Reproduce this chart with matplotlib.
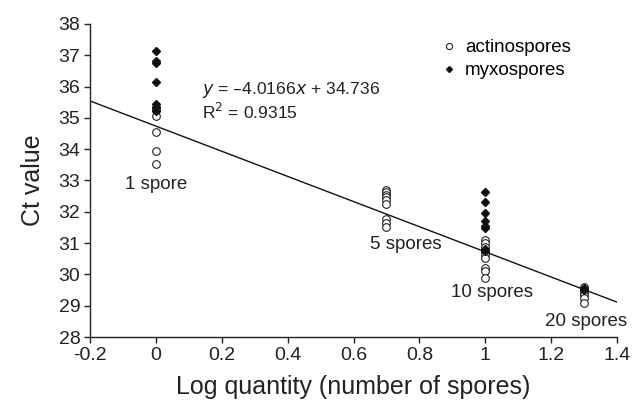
import numpy as np
import matplotlib
matplotlib.use('Agg')
import matplotlib.pyplot as plt

plt.rcParams['font.family'] = ['Liberation Sans', 'DejaVu Sans']

# log10(number of spores) for each group
x_levels = [0.0, 0.699, 1.0, 1.301]

actino = {
    0.0: [35.3, 35.25, 35.05, 34.56, 33.95, 33.52],
    0.699: [32.7, 32.62, 32.54, 32.47, 32.38, 32.24, 31.76, 31.63, 31.5],
    1.0: [31.1, 30.99, 30.87, 30.72, 30.62, 30.51, 30.19, 30.1, 29.9],
    1.301: [29.6, 29.5, 29.42, 29.33, 29.25, 29.1],
}
myxo = {
    0.0: [37.12, 36.8, 36.74, 36.16, 35.44, 35.35, 35.22],
    1.0: [32.62, 32.3, 31.95, 31.69, 31.53, 31.48, 30.8, 30.74],
    1.301: [29.58, 29.5],
}

slope, intercept = -4.0166, 34.736

labels = ['1 spore', '5 spores', '10 spores', '20 spores']
label_pos = [(0.0, 32.86), (0.76, 30.97), (1.02, 29.42), (1.305, 28.49)]

fig = plt.figure(figsize=(6.44, 4.12), dpi=100)
ax = fig.add_axes([0.1398, 0.182, 0.8184, 0.760])

ax_x, ax_y = [], []
for k, v in actino.items():
    ax_x += [k] * len(v)
    ax_y += v
mx_x, mx_y = [], []
for k, v in myxo.items():
    mx_x += [k] * len(v)
    mx_y += v

ax.plot(ax_x, ax_y, 'o', mfc='white', mec='#222222', mew=0.8, ms=5.5,
        ls='none', label='actinospores', zorder=3)
ax.plot(mx_x, mx_y, 'D', color='#111111', ms=3.8, ls='none',
        label='myxospores', zorder=4)

xl = np.array([-0.2, 1.4])
ax.plot(xl, slope * xl + intercept, color='#111111', lw=1.0, zorder=2)

for t, (px, py) in zip(labels, label_pos):
    ax.text(px, py, t, ha='center', va='center', fontsize=13.5, color='#222222')

ax.text(0.139, 35.9, r'$y$ = –4.0166$x$ + 34.736', fontsize=12.6,
        va='center', ha='left', color='#222222')
ax.text(0.139, 35.2, r'R$^2$ = 0.9315', fontsize=12.6,
        va='center', ha='left', color='#222222')

ax.set_xlim(-0.2, 1.4)
ax.set_ylim(28, 38)
ax.set_xticks([-0.2, 0, 0.2, 0.4, 0.6, 0.8, 1.0, 1.2, 1.4])
ax.set_xticklabels(['-0.2', '0', '0.2', '0.4', '0.6', '0.8', '1', '1.2', '1.4'])
ax.set_yticks(range(28, 39))
for s in ['top', 'right']:
    ax.spines[s].set_visible(False)
for s in ['left', 'bottom']:
    ax.spines[s].set_linewidth(1.0)
    ax.spines[s].set_color('#222222')
ax.tick_params(direction='out', length=4, width=1.0, labelsize=14,
               colors='#222222', pad=3)

ax.set_xlabel('Log quantity (number of spores)', fontsize=18, color='#222222',
              labelpad=8)
ax.set_ylabel('Ct value', fontsize=18, color='#222222', labelpad=10)

leg = ax.legend(loc='upper left', bbox_to_anchor=(0.64, 0.975), frameon=False,
                fontsize=13.5, handletextpad=0.1, labelspacing=0.3,
                handlelength=1.5, borderaxespad=0, markerscale=0.8)

fig.savefig('out.png', dpi=100)
